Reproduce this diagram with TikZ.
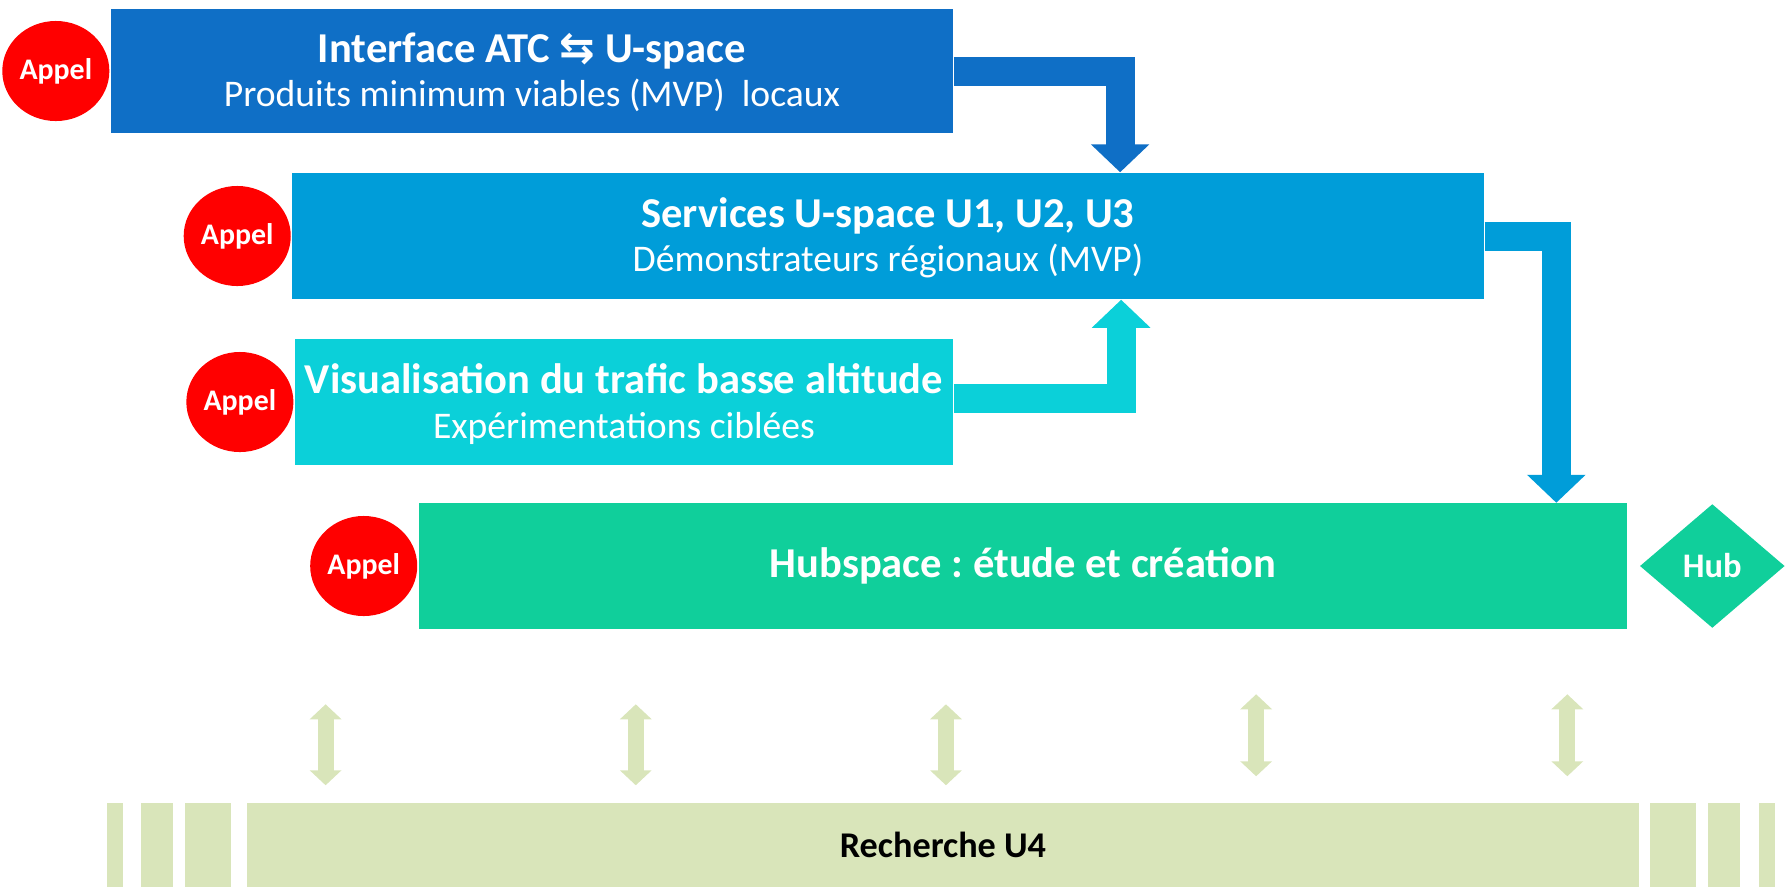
\documentclass[tikz,border=0pt]{standalone}
\usepackage{fontspec}
\setmainfont{Carlito}
\newfontfamily\symfont{DejaVu Sans}
\usepackage{tikz}
\usetikzlibrary{arrows.meta,positioning,shapes.geometric}
\definecolor{bleuA}{HTML}{0F6FC6}
\definecolor{bleuB}{HTML}{009DD9}
\definecolor{cyanC}{HTML}{0BD0D9}
\definecolor{vertD}{HTML}{10CF9B}
\definecolor{vertpale}{HTML}{D9E5BA}
\definecolor{rouge}{HTML}{FF0000}
\frenchspacing

\begin{document}
\begin{tikzpicture}[x=0.01cm,y=-0.01cm]
\tikzstyle{every node}+=[inner sep=0pt]
\tikzstyle{box}=[rectangle, minimum height=1.25cm]
\tikzstyle{appel}=[ellipse, fill=rouge, minimum width=1.07cm, minimum height=1cm, text=white, font=\bfseries\fontsize{8.5}{9}\selectfont]
\tikzstyle{titre}=[anchor=base, text=white, font=\bfseries\fontsize{12.1}{13}\selectfont]
\tikzstyle{soustitre}=[anchor=base, text=white, font=\fontsize{10.7}{12}\selectfont]
\tikzstyle{bigarrow}=[line width=0.29cm, -{Triangle[width=0.57cm,length=0.28cm]}]
\tikzstyle{dblarrow}=[vertpale, line width=0.16cm, {Triangle[width=0.31cm,length=0.15cm]}-{Triangle[width=0.31cm,length=0.15cm]}]
\useasboundingbox (0,0) rectangle (1787,887);

\node[box, fill=bleuA, minimum width=8.42cm, minimum height=1.24cm] (b1) at (532,71) {};
\node[titre] (t1) at ([yshift=-0.54cm]b1.north) {Interface ATC {\symfont ⇆} U-space};
\node[soustitre] (s1) at ([yshift=-0.98cm]b1.north) {Produits minimum viables (MVP)\ \ locaux};
\node[appel, left=0pt of b1] (a1) {Appel};

\node[box, fill=bleuB, minimum width=11.91cm, minimum height=1.26cm] (b2) at (888,236) {};
\node[titre] (t2) at ([yshift=-0.55cm]b2.north) {Services U-space U1, U2, U3};
\node[soustitre] (s2) at ([yshift=-0.99cm]b2.north) {Démonstrateurs régionaux (MVP)};
\node[appel, left=0pt of b2] (a2) {Appel};

\node[box, fill=cyanC, minimum width=6.58cm] (b3) at (624,402) {};
\node[titre] (t3) at ([yshift=-0.55cm]b3.north) {Visualisation du trafic basse altitude};
\node[soustitre] (s3) at ([yshift=-1.0cm]b3.north) {Expérimentations ciblées};
\node[appel, left=0pt of b3] (a3) {Appel};

\node[box, fill=vertD, minimum width=12.08cm, text=white, font=\bfseries\fontsize{12.1}{13}\selectfont] (b4) at (1023,566) {Hubspace : étude et création};
\node[appel, left=0pt of b4] (a4) {Appel};
\node[diamond, fill=vertD, minimum width=1.45cm, minimum height=1.24cm, right=0.11cm of b4, text=white, font=\bfseries\fontsize{9.8}{11}\selectfont] (hub) {Hub};

\node[box, fill=vertpale, minimum width=13.92cm, minimum height=0.84cm, font=\bfseries\fontsize{10.3}{12}\selectfont] (res) at (943,845) {Recherche U4};
\foreach \a/\b in {107/123,141/173,185/231,1650/1696,1708/1740,1759/1775}
  \fill[vertpale] (\a,803) rectangle (\b,887);

\draw[bigarrow, bleuA] (b1.east) -| ([xshift=2.32cm]b2.north);
\draw[bigarrow, bleuB] (b2.east) -| ([xshift=5.33cm]b4.north);
\draw[bigarrow, cyanC] ([yshift=0.035cm]b3.east) -| ([xshift=2.33cm]b2.south);

\foreach \dx/\h/\g in {-6.97/0.75/0.17,-3.87/0.75/0.17,-0.77/0.75/0.17,2.33/0.65/0.26,5.44/0.65/0.26}
  \draw[dblarrow, shorten >=\g cm] ([xshift=\dx cm, yshift=-\h cm]b4.south) coordinate (p) -- (p |- res.north);
\end{tikzpicture}
\end{document}
